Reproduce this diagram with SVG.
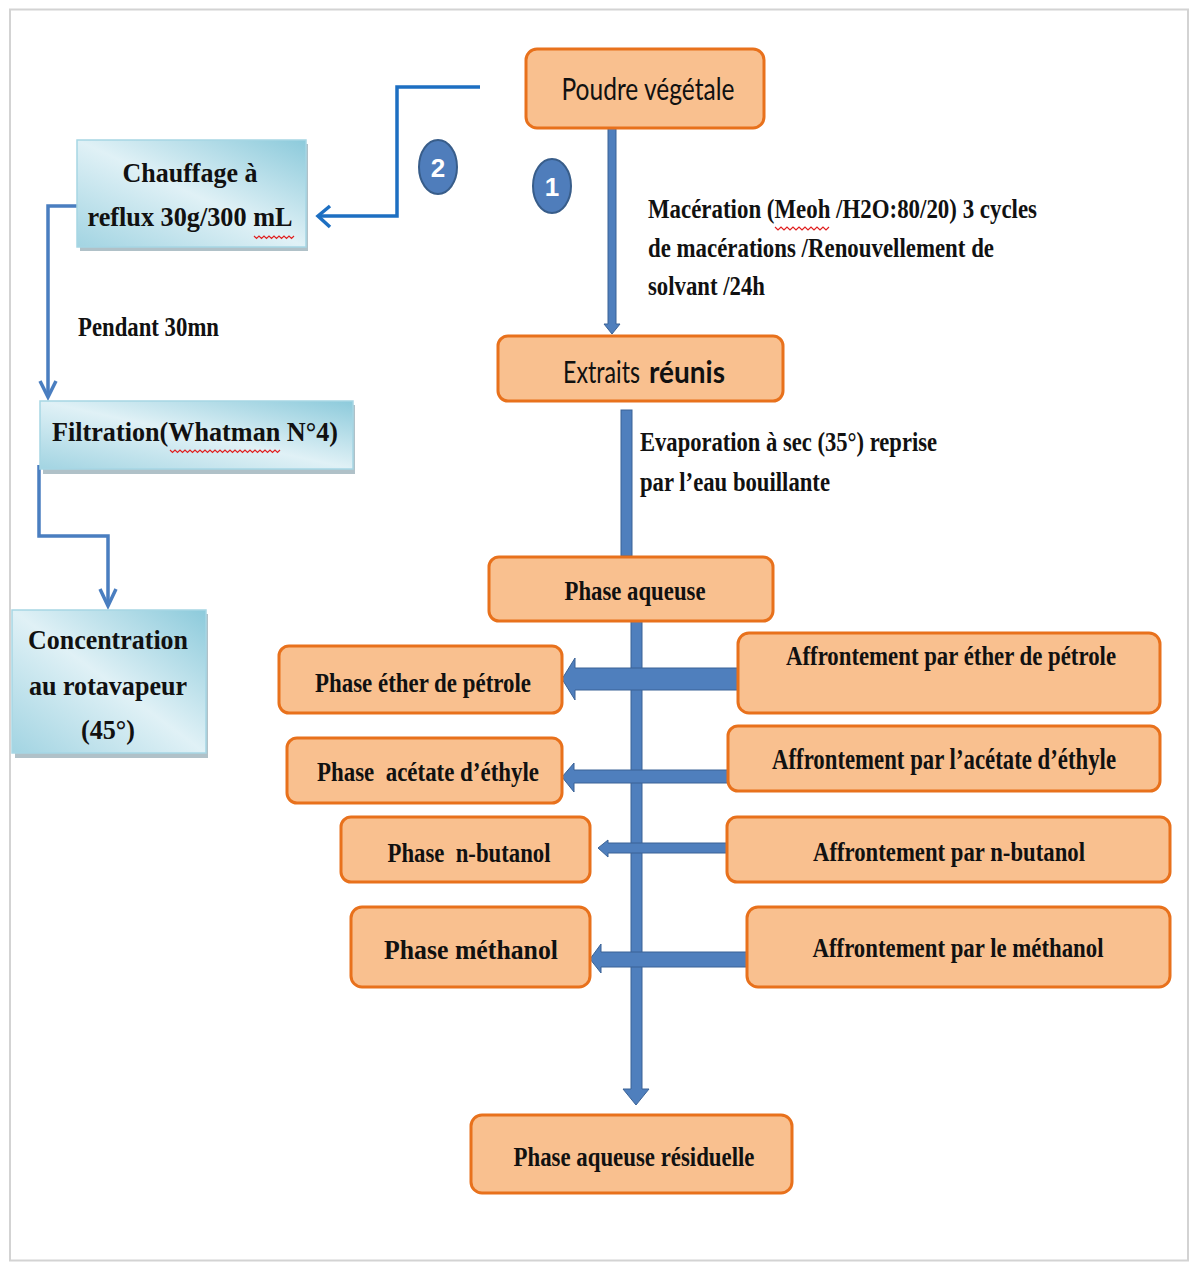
<svg xmlns="http://www.w3.org/2000/svg" width="1192" height="1264" viewBox="0 0 1192 1264">
<style>
.ob{fill:#f9c08f;stroke:#e8711c;stroke-width:3}
.bb{fill:url(#bg);stroke:#a6d6e4;stroke-width:1.5}
.sh{fill:#8fa7b0;opacity:0.7}
.t{font-family:"Liberation Serif","Times New Roman",serif;font-weight:bold;font-size:28px;fill:#111}
.s{font-family:Lato,"Liberation Sans",sans-serif;font-size:31px;fill:#111}
.c{text-anchor:middle}
.thin{fill:none;stroke:#4a7ec0;stroke-width:3.5}
.thick{fill:#4f7fbd;stroke:#3a6296;stroke-width:1}
.sq{fill:none;stroke:#e02020;stroke-width:1.2}
.num{font-family:"Liberation Sans",Arial,sans-serif;font-weight:bold;font-size:26px;fill:#fff;text-anchor:middle}
</style>
<defs>
<linearGradient id="bg" x1="1" y1="0" x2="0" y2="1">
<stop offset="0" stop-color="#8ccadb"/>
<stop offset="0.5" stop-color="#e0f1f6"/>
<stop offset="1" stop-color="#a2d4e2"/>
</linearGradient>
</defs>
<rect x="0" y="0" width="1192" height="1264" fill="#fff"/>
<rect x="10" y="9.5" width="1178" height="1251" fill="#fff" stroke="#d3d3d3" stroke-width="2"/>

<g id="connectors">
<path d="M480,87 H397 V216 H318" fill="none" stroke="#1d6fc2" stroke-width="3.5"/>
<path d="M330,206 L318,216 L330,227" fill="none" stroke="#1d6fc2" stroke-width="3.5"/>
<path class="thin" d="M78,206 H48 V396"/>
<path class="thin" d="M40,381 L48,397 L56,381"/>
<path class="thin" d="M39,465 V536 H108 V605"/>
<path class="thin" d="M100,589 L108,606 L116,589"/>
<path class="thick" d="M608,128 H616 V324 H620 L612,334 L604,324 H608 Z"/>
<rect class="thick" x="621" y="410" width="11" height="146"/>
<path class="thick" d="M631,621 H642 V1089 H649 L636,1105 L623,1089 H631 Z"/>
<path class="thick" d="M738,668 V690 H575 V700 L562,679 L575,658 V668 Z"/>
<path class="thick" d="M728,770 V783 H574 V792 L562,777 L574,763 V770 Z"/>
<path class="thick" d="M727,843 V853 H608 V857 L598,848 L608,840 V843 Z"/>
<path class="thick" d="M747,952 V967 H601 V973 L590,959 L601,944 V952 Z"/>
</g>

<g id="circle2"><ellipse cx="438" cy="167" rx="19" ry="27" fill="#4f7dbb" stroke="#385d8a" stroke-width="2"/><text class="num" x="438" y="177">2</text></g>
<g id="circle1"><ellipse cx="552" cy="186" rx="19" ry="27" fill="#4f7dbb" stroke="#385d8a" stroke-width="2"/><text class="num" x="552" y="196">1</text></g>

<g id="poudre"><rect class="ob" x="526" y="49" width="238" height="79" rx="11"/><text class="s c" x="648" y="100" textLength="173" lengthAdjust="spacingAndGlyphs">Poudre végétale</text></g>

<g id="maceration-label">
<text class="t" x="648" y="218" textLength="389" lengthAdjust="spacingAndGlyphs">Macération (Meoh /H2O:80/20) 3 cycles</text>
<text class="t" x="648" y="257" textLength="346" lengthAdjust="spacingAndGlyphs">de macérations /Renouvellement de</text>
<text class="t" x="648" y="295" textLength="117" lengthAdjust="spacingAndGlyphs">solvant /24h</text>
<path class="sq" d="M775,227 l3,3 l3,-3 l3,3 l3,-3 l3,3 l3,-3 l3,3 l3,-3 l3,3 l3,-3 l3,3 l3,-3 l3,3 l3,-3 l3,3 l3,-3 l3,3 l3,-3"/>
</g>

<g id="extraits"><rect class="ob" x="498" y="336" width="285" height="65" rx="10"/>
<text transform="translate(563,383) scale(1,1.25)" font-family="Lato,'Liberation Sans',sans-serif" font-size="24" fill="#111" textLength="77" lengthAdjust="spacingAndGlyphs">Extraits</text>
<text transform="translate(649,383) scale(1,1.1)" font-family="Lato,'Liberation Sans',sans-serif" font-size="27" font-weight="bold" fill="#111" textLength="76" lengthAdjust="spacingAndGlyphs">réunis</text></g>

<g id="evaporation-label">
<text class="t" x="640" y="451" textLength="297" lengthAdjust="spacingAndGlyphs">Evaporation à sec (35°) reprise</text>
<text class="t" x="640" y="491" textLength="190" lengthAdjust="spacingAndGlyphs">par l’eau bouillante</text>
</g>

<g id="phase-aqueuse"><rect class="ob" x="489" y="557" width="284" height="64" rx="10"/><text class="t c" x="635" y="600" textLength="141" lengthAdjust="spacingAndGlyphs">Phase aqueuse</text></g>

<g id="phase-ether"><rect class="ob" x="279" y="646" width="283" height="67" rx="10"/><text class="t c" x="423" y="692" textLength="216" lengthAdjust="spacingAndGlyphs">Phase éther de pétrole</text></g>
<g id="aff-ether"><rect class="ob" x="738" y="633" width="422" height="80" rx="11"/><text class="t c" x="951" y="665" textLength="330" lengthAdjust="spacingAndGlyphs">Affrontement par éther de pétrole</text></g>

<g id="phase-acetate"><rect class="ob" x="287" y="738" width="275" height="65" rx="10"/><text class="t c" x="428" y="781" textLength="222" lengthAdjust="spacingAndGlyphs" xml:space="preserve">Phase  acétate d’éthyle</text></g>
<g id="aff-acetate"><rect class="ob" x="728" y="726" width="432" height="65" rx="10"/><text class="t c" transform="translate(944,769) scale(1,1.08)" font-size="24" textLength="344" lengthAdjust="spacingAndGlyphs">Affrontement par l’acétate d’éthyle</text></g>

<g id="phase-butanol"><rect class="ob" x="341" y="817" width="249" height="65" rx="10"/><text class="t c" x="469" y="862" textLength="163" lengthAdjust="spacingAndGlyphs" xml:space="preserve">Phase  n-butanol</text></g>
<g id="aff-butanol"><rect class="ob" x="727" y="817" width="443" height="65" rx="10"/><text class="t c" x="949" y="861" textLength="272" lengthAdjust="spacingAndGlyphs">Affrontement par n-butanol</text></g>

<g id="phase-methanol"><rect class="ob" x="351" y="907" width="239" height="80" rx="11"/><text class="t c" x="471" y="959" font-size="31" textLength="174" lengthAdjust="spacingAndGlyphs">Phase méthanol</text></g>
<g id="aff-methanol"><rect class="ob" x="747" y="907" width="423" height="80" rx="11"/><text class="t c" x="958" y="957" textLength="291" lengthAdjust="spacingAndGlyphs">Affrontement par le méthanol</text></g>

<g id="phase-residuelle"><rect class="ob" x="471" y="1115" width="321" height="78" rx="11"/><text class="t c" x="634" y="1166" textLength="241" lengthAdjust="spacingAndGlyphs">Phase aqueuse résiduelle</text></g>

<g id="chauffage"><rect class="sh" x="80" y="144" width="228" height="107"/><rect class="bb" x="77" y="140" width="229" height="107"/>
<text class="t c" x="190" y="182" textLength="135" lengthAdjust="spacingAndGlyphs">Chauffage à</text>
<text class="t c" x="190" y="226" textLength="205" lengthAdjust="spacingAndGlyphs">reflux 30g/300 mL</text>
<path class="sq" d="M254,236 l2.5,2.5 l2.5,-2.5 l2.5,2.5 l2.5,-2.5 l2.5,2.5 l2.5,-2.5 l2.5,2.5 l2.5,-2.5 l2.5,2.5 l2.5,-2.5 l2.5,2.5 l2.5,-2.5 l2.5,2.5 l2.5,-2.5 l2.5,2.5 l2.5,-2.5"/>
</g>

<g id="pendant-label"><text class="t" x="78" y="336" textLength="141" lengthAdjust="spacingAndGlyphs">Pendant 30mn</text></g>

<g id="filtration"><rect class="sh" x="43" y="405" width="312" height="69"/><rect class="bb" x="40" y="401" width="313" height="68"/>
<text class="t c" x="195" y="441" textLength="286" lengthAdjust="spacingAndGlyphs">Filtration(Whatman N°4)</text>
<path class="sq" d="M170,450 l2.5,2.5 l2.5,-2.5 l2.5,2.5 l2.5,-2.5 l2.5,2.5 l2.5,-2.5 l2.5,2.5 l2.5,-2.5 l2.5,2.5 l2.5,-2.5 l2.5,2.5 l2.5,-2.5 l2.5,2.5 l2.5,-2.5 l2.5,2.5 l2.5,-2.5 l2.5,2.5 l2.5,-2.5 l2.5,2.5 l2.5,-2.5 l2.5,2.5 l2.5,-2.5 l2.5,2.5 l2.5,-2.5 l2.5,2.5 l2.5,-2.5 l2.5,2.5 l2.5,-2.5 l2.5,2.5 l2.5,-2.5 l2.5,2.5 l2.5,-2.5 l2.5,2.5 l2.5,-2.5 l2.5,2.5 l2.5,-2.5 l2.5,2.5 l2.5,-2.5 l2.5,2.5 l2.5,-2.5 l2.5,2.5 l2.5,-2.5 l2.5,2.5 l2.5,-2.5"/>
</g>

<g id="concentration"><rect class="sh" x="15" y="614" width="193" height="144"/><rect class="bb" x="12" y="610" width="194" height="143"/>
<text class="t c" x="108" y="649" textLength="160" lengthAdjust="spacingAndGlyphs">Concentration</text>
<text class="t c" x="108" y="695" textLength="158" lengthAdjust="spacingAndGlyphs">au rotavapeur</text>
<text class="t c" x="108" y="739" textLength="54" lengthAdjust="spacingAndGlyphs">(45°)</text>
</g>
</svg>
